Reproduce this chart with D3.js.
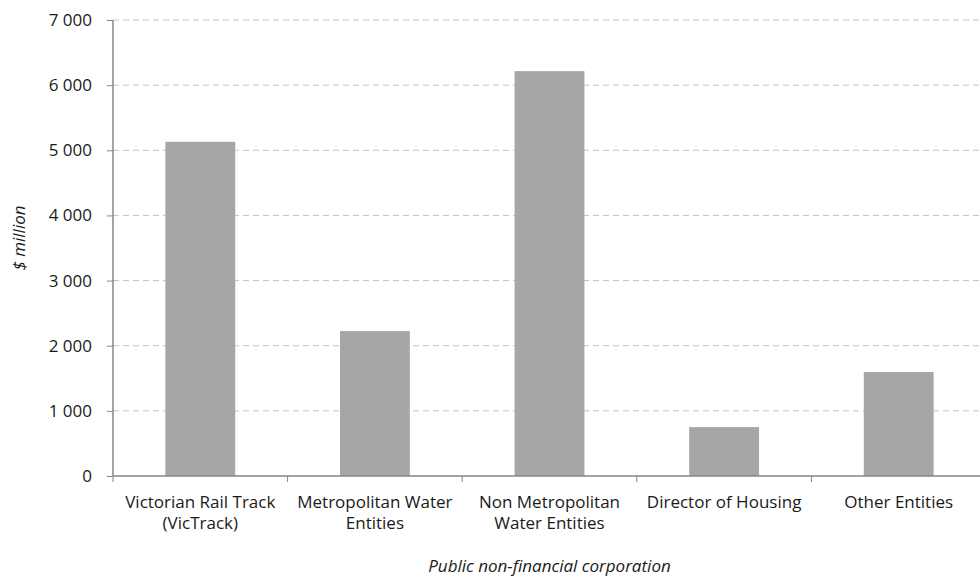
<!DOCTYPE html>
<html>
<head>
<meta charset="utf-8">
<script src="https://cdn.jsdelivr.net/npm/d3@7"></script>
<style>
  body { margin: 0; background: #fff; }
  text { font-family: "Open Sans", sans-serif; fill: #1a1a1a; }
</style>
</head>
<body>
<div id="chart"></div>
<script>
// data
var categories = [["Victorian Rail Track", "(VicTrack)"],
                  ["Metropolitan Water", "Entities"],
                  ["Non Metropolitan", "Water Entities"],
                  ["Director of Housing"],
                  ["Other Entities"]];
var values = [5130, 2225, 6215, 750, 1597];
var yTicks = [0, 1000, 2000, 3000, 4000, 5000, 6000, 7000];

var W = 980, H = 578;
var margin = {top: 20, right: -6, bottom: 102, left: 113},
    width = W - margin.left - margin.right,
    height = H - margin.top - margin.bottom;
var fs = "17px";

var svg = d3.select("#chart")
  .append("svg")
    .attr("width", W)
    .attr("height", H)
  .append("g")
    .attr("transform", "translate(" + margin.left + "," + margin.top + ")");

var idx = d3.range(values.length);

var x = d3.scaleBand()
  .domain(idx)
  .range([0, width])
  .paddingInner(0.6)
  .paddingOuter(0.3);

var y = d3.scaleLinear()
  .domain([0, 7000])
  .range([height, 0]);

var fmt = function(d) { return d3.format(",")(d).replace(/,/g, " "); };

// gridlines
svg.append("g")
  .selectAll("line")
  .data(yTicks.slice(1))
  .enter()
  .append("line")
    .attr("x1", 0)
    .attr("x2", width)
    .attr("y1", function(d) { return y(d); })
    .attr("y2", function(d) { return y(d); })
    .attr("stroke", "#c3c3c3")
    .attr("stroke-dasharray", "6,4");

// bars
svg.selectAll("rect.bar")
  .data(values)
  .enter()
  .append("rect")
    .attr("class", "bar")
    .attr("x", function(d, i) { return x(i); })
    .attr("y", function(d) { return y(d); })
    .attr("width", x.bandwidth())
    .attr("height", function(d) { return height - y(d); })
    .attr("fill", "#a6a6a6");

// Y axis
var yAxis = svg.append("g")
  .call(d3.axisLeft(y).tickValues(yTicks).tickSize(6).tickFormat(fmt));
yAxis.select(".domain").attr("stroke", "#868686").attr("stroke-width", 1.5).attr("d", "M0,0V" + height);
yAxis.selectAll(".tick line").attr("stroke", "#868686");
yAxis.selectAll(".tick text")
  .attr("x", -21)
  .style("font-size", fs)
  .style("font-family", "'Open Sans', sans-serif")
  .style("fill", "#1a1a1a");

// X axis
var bounds = d3.range(values.length).map(function(i) { return i * width / values.length; });
var xg = svg.append("g").attr("transform", "translate(0," + height + ")");
xg.append("line")
  .attr("x1", 0).attr("x2", width)
  .attr("stroke", "#868686").attr("stroke-width", 1.5);
xg.selectAll("line.tk")
  .data(bounds)
  .enter()
  .append("line")
    .attr("class", "tk")
    .attr("x1", function(d) { return d; })
    .attr("x2", function(d) { return d; })
    .attr("y1", 0).attr("y2", 6)
    .attr("stroke", "#868686");

xg.selectAll("text.cat")
  .data(categories)
  .enter()
  .append("text")
    .attr("class", "cat")
    .attr("text-anchor", "middle")
    .attr("transform", function(d, i) { return "translate(" + (x(i) + x.bandwidth() / 2) + ",32)"; })
    .style("font-size", fs)
    .selectAll("tspan")
    .data(function(d) { return d; })
    .enter()
    .append("tspan")
      .attr("x", 0)
      .attr("dy", function(d, j) { return j === 0 ? 0 : 21; })
      .text(function(d) { return d; });

// axis titles
svg.append("text")
  .attr("transform", "translate(-88," + (height / 2 - 10) + ")rotate(-90)")
  .attr("text-anchor", "middle")
  .style("font-size", fs)
  .style("font-style", "italic")
  .text("$ million");

svg.append("text")
  .attr("x", width / 2)
  .attr("y", height + 96)
  .attr("text-anchor", "middle")
  .style("font-size", fs)
  .style("font-style", "italic")
  .text("Public non-financial corporation");
</script>
</body>
</html>
